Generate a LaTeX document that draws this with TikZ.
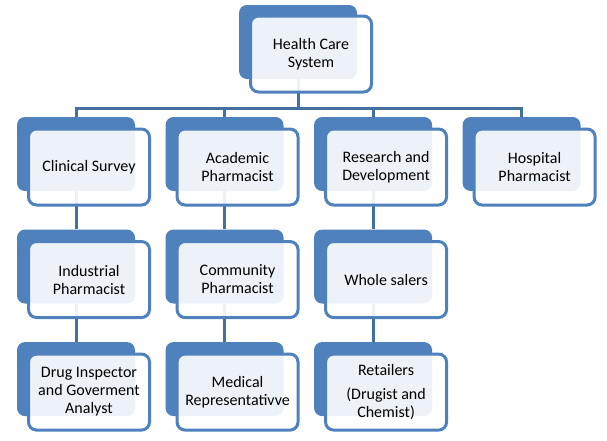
\documentclass[tikz,border=0pt]{standalone}
\usepackage{fontspec}
\setmainfont{Carlito}
\usetikzlibrary{positioning}
\definecolor{hcblue}{HTML}{4F81BD}
\definecolor{hcline}{HTML}{41719C}

\begin{document}
\begin{tikzpicture}[x=0.75pt, y=-0.75pt,
    backbox/.style={rectangle, rounded corners=6pt, fill=hcblue,
                 minimum width=88.5pt, minimum height=55.5pt},
    frontbox/.style={rectangle, rounded corners=6pt, draw=hcblue, line width=2.25pt,
                 fill=white, fill opacity=0.9, text opacity=1, align=center,
                 font=\fontsize{12}{13.5}\selectfont, minimum width=90.75pt, minimum height=57pt},
    link/.style={draw=hcline, line width=2.25pt}
  ]
    \useasboundingbox (0,0) rectangle (607,440);

    % back boxes
    \node[backbox] (hcs-bk) at (298,42) {};
    \node[backbox] (cs-bk) at (76,154) {};
    \node[backbox, right=22.5pt of cs-bk] (ap-bk) {};
    \node[backbox, right=22.5pt of ap-bk] (rd-bk) {};
    \node[backbox, right=22.5pt of rd-bk] (hp-bk) {};
    \node[backbox, below=28.5pt of cs-bk] (ip-bk) {};
    \node[backbox, below=28.5pt of ap-bk] (cp-bk) {};
    \node[backbox, below=28.5pt of rd-bk] (ws-bk) {};
    \node[backbox, below=28.5pt of ip-bk] (dia-bk) {};
    \node[backbox, below=28.5pt of cp-bk] (mr-bk) {};
    \node[backbox, below=28.5pt of ws-bk] (ret-bk) {};

    % connectors
    \coordinate (bus) at (298,108);
    \draw[link] (hcs-bk.south) -- (bus);
    \draw[link] (bus) -| (cs-bk.north);
    \draw[link] (bus) -| (ap-bk.north);
    \draw[link] (bus) -| (rd-bk.north);
    \draw[link] (bus) -| (hp-bk.north);
    \draw[link] (cs-bk.south) -- (ip-bk.north);
    \draw[link] (ip-bk.south) -- (dia-bk.north);
    \draw[link] (ap-bk.south) -- (cp-bk.north);
    \draw[link] (cp-bk.south) -- (mr-bk.north);
    \draw[link] (rd-bk.south) -- (ws-bk.north);
    \draw[link] (ws-bk.south) -- (ret-bk.north);

    % front boxes
    \node[frontbox] (hcs) at ([shift={(13,12)}]hcs-bk.center) {Health Care\\ System};
    \node[frontbox] (cs) at ([shift={(13,13)}]cs-bk.center) {Clinical Survey};
    \node[frontbox] (ap) at ([shift={(13,13)}]ap-bk.center) {Academic\\ Pharmacist};
    \node[frontbox] (rd) at ([shift={(13,13)}]rd-bk.center) {Research and\\ Development};
    \node[frontbox] (hp) at ([shift={(13,13)}]hp-bk.center) {Hospital\\ Pharmacist};
    \node[frontbox] (ip) at ([shift={(13,13)}]ip-bk.center) {Industrial\\ Pharmacist};
    \node[frontbox] (cp) at ([shift={(13,13)}]cp-bk.center) {Community\\ Pharmacist};
    \node[frontbox] (ws) at ([shift={(13,13)}]ws-bk.center) {Whole salers};
    \node[frontbox] (dia) at ([shift={(13,13)}]dia-bk.center) {Drug Inspector\\ and Goverment\\ Analyst};
    \node[frontbox] (mr) at ([shift={(13,13)}]mr-bk.center) {Medical\\ Representativve};
    \node[frontbox] (ret) at ([shift={(13,13)}]ret-bk.center) {Retailers\\[4.5pt] (Drugist and\\ Chemist)};
  \end{tikzpicture}
\end{document}
